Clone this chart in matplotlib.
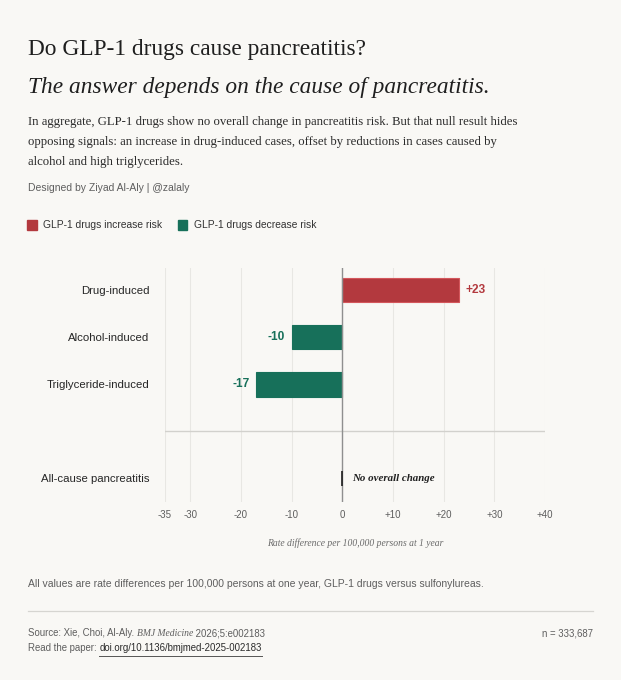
import matplotlib
matplotlib.use("Agg")
import matplotlib.pyplot as plt
from matplotlib.patches import Patch

BG = "#f9f8f5"
RED = "#b3393e"
GREEN = "#17705a"
DARK = "#1f1f1f"
GRAY = "#5e5e5e"

categories = ["Drug-induced", "Alcohol-induced", "Triglyceride-induced", "All-cause pancreatitis"]
values = [23, -10, -17, 0]
value_labels = ["+23", "-10", "-17", ""]
xticks = [-35, -30, -20, -10, 0, 10, 20, 30, 40]
xtick_labels = ["-35", "-30", "-20", "-10", "0", "+10", "+20", "+30", "+40"]
ypos = [0, 1, 2, 4]  # gap at 3 holds the separator line

W, H = 621, 680
fig = plt.figure(figsize=(W / 100, H / 100), dpi=100, facecolor=BG)


def fx(px):
    return px / W


def fy(py):
    return 1 - py / H


serif = "Liberation Serif"
sans = "Liberation Sans"

# header
fig.text(fx(28), fy(50), "Do GLP-1 drugs cause pancreatitis?", family=serif,
         fontsize=16.8, color=DARK, va="center")
fig.text(fx(28), fy(88), "The answer depends on the cause of pancreatitis.", family=serif,
         style="italic", fontsize=16.8, color=DARK, va="center")
body = ["In aggregate, GLP-1 drugs show no overall change in pancreatitis risk. But that null result hides",
        "opposing signals: an increase in drug-induced cases, offset by reductions in cases caused by",
        "alcohol and high triglycerides."]
for i, line in enumerate(body):
    fig.text(fx(28), fy(122 + 20 * i), line, family=serif, fontsize=9.2, color="#2b2b2b", va="center")
fig.text(fx(28), fy(188), "Designed by Ziyad Al-Aly | @zalaly", family=sans, fontsize=7.5,
         color=GRAY, va="center")

handles = [Patch(facecolor=RED, edgecolor=RED, label="GLP-1 drugs increase risk"),
           Patch(facecolor=GREEN, edgecolor=GREEN, label="GLP-1 drugs decrease risk")]
fig.legend(handles=handles, loc="center left", bbox_to_anchor=(fx(18), fy(225)), ncol=2,
           frameon=False, prop={"family": sans, "size": 7.4}, handlelength=0.9,
           handleheight=1.1, handletextpad=0.6, columnspacing=1.6, labelcolor="#333333")

# chart
ax = fig.add_axes([fx(165), fy(502), fx(545) - fx(165), (502 - 268) / H])
ax.set_facecolor(BG)
ax.set_xlim(-35, 40)
ax.set_ylim(4.5, -0.47)

for t in xticks:
    ax.axvline(t, color="#e8e7e3", lw=0.8, zorder=0)
ax.axhline(3, color="#d2d1cd", lw=1.0, zorder=1)
ax.axvline(0, color="#8f8f8f", lw=1.0, zorder=3)

colors = [RED if v > 0 else GREEN for v in values]
ax.barh(ypos[:3], values[:3], height=0.52, color=colors[:3], edgecolor=[
        "#d4575c" if v > 0 else GREEN for v in values[:3]], lw=0.8, zorder=2)
ax.barh(ypos[3], values[3], height=0.32, color=DARK, edgecolor=DARK, lw=1.2, zorder=4)

for y, v, lab, c in zip(ypos, values, value_labels, colors):
    if not lab:
        continue
    off = 1.3 if v > 0 else -1.3
    ax.text(v + off, y, lab, ha="left" if v > 0 else "right", va="center",
            family=sans, fontsize=8.6, fontweight="bold", color=c)
ax.text(2, ypos[3], "No overall change", family=serif, style="italic", fontweight="bold",
        fontsize=7.8, color=DARK, va="center", ha="left")

ax.set_yticks(ypos)
ax.set_yticklabels(categories, family=sans, fontsize=8.2, color="#262626")
ax.set_xticks(xticks)
ax.set_xticklabels(xtick_labels, family=sans, fontsize=7, color=GRAY)
ax.tick_params(axis="y", length=0, pad=11)
ax.tick_params(axis="x", length=0, pad=6)
for s in ax.spines.values():
    s.set_visible(False)

fig.text((fx(165) + fx(545)) / 2, fy(543), "Rate difference per 100,000 persons at 1 year",
         family=serif, style="italic", fontsize=6.9, color="#6a6a6a", ha="center", va="center")

# footer
fig.text(fx(28), fy(584), "All values are rate differences per 100,000 persons at one year, "
         "GLP-1 drugs versus sulfonylureas.", family=sans, fontsize=7.45, color=GRAY, va="center")
fig.add_artist(plt.Line2D([fx(28), fx(593)], [fy(611), fy(611)], color="#d6d5d1", lw=0.9))

t1 = fig.text(fx(28), fy(633), "Source: Xie, Choi, Al-Aly. ", family=sans, fontsize=6.9,
              color=GRAY, va="center")
fig.canvas.draw()
r = fig.canvas.get_renderer()
bb = t1.get_window_extent(r)
t2 = fig.text(bb.x1 / W, fy(633), "BMJ Medicine", family=serif, style="italic", fontsize=6.9,
              color=GRAY, va="center")
bb2 = t2.get_window_extent(r)
fig.text(bb2.x1 / W, fy(633), " 2026;5:e002183", family=sans, fontsize=6.9, color=GRAY, va="center")
fig.text(fx(593), fy(633), "n = 333,687", family=sans, fontsize=6.9, color=GRAY, va="center",
         ha="right")

t3 = fig.text(fx(28), fy(648), "Read the paper: ", family=sans, fontsize=6.9, color=GRAY,
              va="center")
bb3 = t3.get_window_extent(r)
t4 = fig.text(bb3.x1 / W, fy(648), "doi.org/10.1136/bmjmed-2025-002183", family=sans,
              fontsize=6.9, color="#2a2a2a", va="center")
bb4 = t4.get_window_extent(r)
fig.add_artist(plt.Line2D([bb4.x0 / W, bb4.x1 / W], [fy(655.5), fy(655.5)], color="#555555",
                          lw=0.7))

fig.savefig("out.png", dpi=100, facecolor=BG)
